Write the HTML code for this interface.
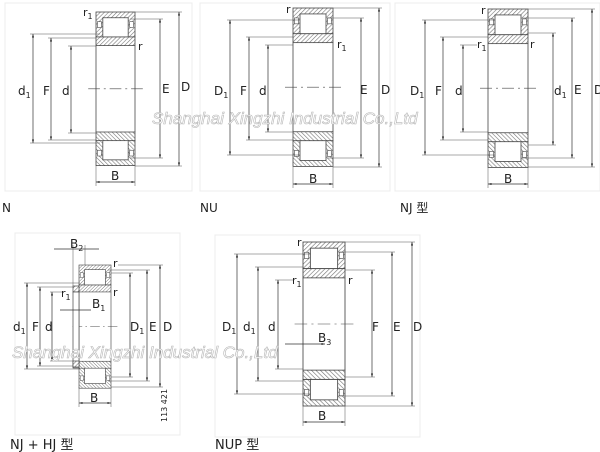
<!DOCTYPE html>
<html><head><meta charset="utf-8"><style>
html,body{margin:0;padding:0;background:#fff;}
svg{display:block;}
text{font-family:"DejaVu Sans","Liberation Sans","Noto Sans CJK SC",sans-serif;fill:#222;}
text.wm{font-family:"Liberation Sans",sans-serif;font-style:italic;font-size:17px;fill:#fff;stroke:#b5b5b5;stroke-width:0.6;}
</style></head><body>
<svg width="600" height="452" viewBox="0 0 600 452" xmlns="http://www.w3.org/2000/svg">
<defs>
<pattern id="h" patternUnits="userSpaceOnUse" width="3" height="3" patternTransform="rotate(45)">
<rect width="3" height="3" fill="#fff"/><line x1="0" y1="0" x2="0" y2="3" stroke="#777" stroke-width="1.2"/></pattern>
<marker id="a" viewBox="0 0 10 10" refX="10" refY="5" markerWidth="5" markerHeight="6" orient="auto-start-reverse"><path d="M0,2 L10,5 L0,8z" fill="#222"/></marker>
<g id="half">
<rect x="0" y="0" width="40" height="26" fill="url(#h)" stroke="#444" stroke-width="0.8"/>
<rect x="7" y="6" width="26" height="20" fill="#fff" stroke="#444" stroke-width="0.8"/>
<rect x="1.5" y="10" width="4" height="6" fill="#fff" stroke="#444" stroke-width="0.6"/>
<rect x="34.5" y="10" width="4" height="6" fill="#fff" stroke="#444" stroke-width="0.6"/>
<rect x="0" y="26" width="40" height="9" fill="url(#h)" stroke="#444" stroke-width="0.8"/>
</g>
<g id="brg">
<use href="#half"/>
<use href="#half" transform="translate(0,160) scale(1,-1)"/>
<line x1="0" y1="35" x2="0" y2="125" stroke="#444" stroke-width="0.8"/>
<line x1="40" y1="35" x2="40" y2="125" stroke="#444" stroke-width="0.8"/>
<line x1="-8" y1="80" x2="48" y2="80" stroke="#444" stroke-width="0.6" stroke-dasharray="12,4,2,4"/>
</g>
</defs>
<g stroke="#ececec" fill="none"><rect x="5" y="3" width="187" height="188"/><rect x="200" y="3" width="190" height="188"/><rect x="395" y="3" width="205" height="188"/><rect x="15" y="233" width="165" height="202"/><rect x="215" y="235" width="205" height="202"/></g>

<!-- N -->
<use href="#brg" transform="translate(96,12) scale(0.975,0.96)"/>
<g stroke="#333" stroke-width="0.7" fill="none" marker-start="url(#a)" marker-end="url(#a)">
<line x1="33" y1="34" x2="33" y2="143"/><line x1="51" y1="38" x2="51" y2="140"/><line x1="71" y1="46" x2="71" y2="133"/>
<line x1="160" y1="19" x2="160" y2="158"/><line x1="179" y1="12" x2="179" y2="166"/><line x1="96" y1="182" x2="135" y2="182"/>
</g>
<g stroke="#555" stroke-width="0.5"><line x1="30" y1="34" x2="100" y2="34"/><line x1="30" y1="143" x2="100" y2="143"/><line x1="48" y1="38" x2="96" y2="38"/><line x1="48" y1="140" x2="96" y2="140"/><line x1="68" y1="46" x2="96" y2="46"/><line x1="68" y1="133" x2="96" y2="133"/><line x1="130" y1="19" x2="163" y2="19"/><line x1="130" y1="158" x2="163" y2="158"/><line x1="135" y1="12" x2="182" y2="12"/><line x1="135" y1="166" x2="182" y2="166"/><line x1="96" y1="166" x2="96" y2="186"/><line x1="135" y1="166" x2="135" y2="186"/></g>
<text x="18" y="95" font-size="12">d<tspan font-size="8" dy="3">1</tspan></text><text x="43" y="95" font-size="12">F</text><text x="62" y="95" font-size="12">d</text><text x="162" y="93" font-size="12">E</text><text x="181" y="91" font-size="12">D</text><text x="111" y="180" font-size="12">B</text><text x="83" y="16" font-size="11">r<tspan font-size="8" dy="3">1</tspan></text><text x="138" y="50" font-size="11">r</text>
<text x="2" y="212" font-size="12">N</text>

<!-- NU -->
<use href="#brg" transform="translate(293,8) scale(1.0,0.99)"/>
<g stroke="#333" stroke-width="0.7" marker-start="url(#a)" marker-end="url(#a)">
<line x1="230" y1="20" x2="230" y2="155"/><line x1="249" y1="37" x2="249" y2="140"/><line x1="268" y1="45" x2="268" y2="132"/><line x1="361" y1="18" x2="361" y2="158"/><line x1="379" y1="8" x2="379" y2="167"/><line x1="293" y1="184" x2="333" y2="184"/></g>
<g stroke="#555" stroke-width="0.5"><line x1="227" y1="20" x2="300" y2="20"/><line x1="227" y1="155" x2="300" y2="155"/><line x1="246" y1="37" x2="293" y2="37"/><line x1="246" y1="140" x2="293" y2="140"/><line x1="265" y1="45" x2="293" y2="45"/><line x1="265" y1="132" x2="293" y2="132"/><line x1="327" y1="18" x2="364" y2="18"/><line x1="327" y1="158" x2="364" y2="158"/><line x1="333" y1="8" x2="382" y2="8"/><line x1="333" y1="167" x2="382" y2="167"/><line x1="293" y1="167" x2="293" y2="188"/><line x1="333" y1="167" x2="333" y2="188"/></g>
<text x="214" y="95" font-size="12">D<tspan font-size="8" dy="3">1</tspan></text><text x="240" y="95" font-size="12">F</text><text x="259" y="95" font-size="12">d</text><text x="360" y="94" font-size="12">E</text><text x="381" y="94" font-size="12">D</text><text x="309" y="183" font-size="12">B</text><text x="286" y="13" font-size="11">r</text><text x="337" y="48" font-size="11">r<tspan font-size="8" dy="3">1</tspan></text>
<text x="200" y="212" font-size="12">NU</text>

<!-- NJ -->
<use href="#brg" transform="translate(488,9) scale(1.0,0.99)"/>
<g stroke="#333" stroke-width="0.7" marker-start="url(#a)" marker-end="url(#a)">
<line x1="425" y1="20" x2="425" y2="155"/><line x1="443" y1="37" x2="443" y2="140"/><line x1="463" y1="45" x2="463" y2="132"/><line x1="553" y1="33" x2="553" y2="145"/><line x1="572" y1="18" x2="572" y2="158"/><line x1="592" y1="9" x2="592" y2="167"/><line x1="488" y1="184" x2="528" y2="184"/></g>
<g stroke="#555" stroke-width="0.5"><line x1="422" y1="20" x2="495" y2="20"/><line x1="422" y1="155" x2="495" y2="155"/><line x1="440" y1="37" x2="488" y2="37"/><line x1="440" y1="140" x2="488" y2="140"/><line x1="460" y1="45" x2="477" y2="45"/><line x1="460" y1="132" x2="488" y2="132"/><line x1="528" y1="33" x2="556" y2="33"/><line x1="528" y1="145" x2="556" y2="145"/><line x1="522" y1="18" x2="575" y2="18"/><line x1="522" y1="158" x2="575" y2="158"/><line x1="528" y1="9" x2="595" y2="9"/><line x1="528" y1="167" x2="595" y2="167"/><line x1="488" y1="167" x2="488" y2="188"/><line x1="528" y1="167" x2="528" y2="188"/></g>
<text x="410" y="95" font-size="12">D<tspan font-size="8" dy="3">1</tspan></text><text x="435" y="95" font-size="12">F</text><text x="455" y="95" font-size="12">d</text><text x="554" y="95" font-size="12">d<tspan font-size="8" dy="3">1</tspan></text><text x="574" y="94" font-size="12">E</text><text x="594" y="94" font-size="12">D</text><text x="504" y="183" font-size="12">B</text><text x="481" y="14" font-size="11">r</text><text x="477" y="48" font-size="11">r<tspan font-size="8" dy="3">1</tspan></text><text x="530" y="48" font-size="11">r</text>
<text x="400" y="212" font-size="12">NJ 型</text>

<!-- NJ+HJ -->
<use href="#brg" transform="translate(79,265) scale(0.8,0.77)"/>
<rect x="73" y="286" width="6" height="6" fill="url(#h)" stroke="#444" stroke-width="0.7"/>
<rect x="73" y="292" width="6" height="76" fill="#fff" stroke="#444" stroke-width="0.7"/>
<rect x="73" y="361" width="6" height="6" fill="url(#h)" stroke="#444" stroke-width="0.7"/>
<g stroke="#333" stroke-width="0.7" marker-start="url(#a)" marker-end="url(#a)">
<line x1="27" y1="283" x2="27" y2="369"/><line x1="40" y1="287" x2="40" y2="366"/><line x1="52" y1="292" x2="52" y2="361"/><line x1="130" y1="273" x2="130" y2="377"/><line x1="147" y1="270" x2="147" y2="381"/><line x1="160" y1="265" x2="160" y2="387"/><line x1="79" y1="403" x2="111" y2="403"/></g>
<line x1="54" y1="249" x2="99" y2="249" stroke="#333" stroke-width="0.7"/>
<line x1="60" y1="310" x2="91" y2="310" stroke="#333" stroke-width="0.7"/>
<g stroke="#555" stroke-width="0.5"><line x1="24" y1="283" x2="80" y2="283"/><line x1="24" y1="369" x2="80" y2="369"/><line x1="37" y1="287" x2="73" y2="287"/><line x1="37" y1="366" x2="73" y2="366"/><line x1="50" y1="292" x2="64" y2="292"/><line x1="50" y1="361" x2="73" y2="361"/><line x1="111" y1="273" x2="133" y2="273"/><line x1="111" y1="377" x2="133" y2="377"/><line x1="108" y1="270" x2="150" y2="270"/><line x1="108" y1="381" x2="150" y2="381"/><line x1="118" y1="265" x2="163" y2="265"/><line x1="111" y1="387" x2="163" y2="387"/><line x1="73" y1="245" x2="73" y2="286"/><line x1="85" y1="245" x2="85" y2="265"/><line x1="79" y1="387" x2="79" y2="407"/><line x1="111" y1="387" x2="111" y2="407"/></g>
<text x="13" y="331" font-size="12">d<tspan font-size="8" dy="3">1</tspan></text><text x="32" y="331" font-size="12">F</text><text x="45" y="331" font-size="12">d</text><text x="130" y="331" font-size="12">D<tspan font-size="8" dy="3">1</tspan></text><text x="149" y="331" font-size="12">E</text><text x="163" y="331" font-size="12">D</text><text x="90" y="402" font-size="12">B</text><text x="70" y="248" font-size="12">B<tspan font-size="8" dy="3">2</tspan></text><text x="92" y="308" font-size="12">B<tspan font-size="8" dy="3">1</tspan></text><text x="61" y="297" font-size="11">r<tspan font-size="8" dy="3">1</tspan></text><text x="113" y="267" font-size="11">r</text><text x="113" y="296" font-size="11">r</text>
<text x="167" y="422" font-size="8" transform="rotate(-90 167 422)">113 421</text>
<text x="10" y="449" font-size="13">NJ + HJ 型</text>

<!-- NUP -->
<use href="#brg" transform="translate(303,242) scale(1.05,1.025)"/>
<g stroke="#333" stroke-width="0.7" marker-start="url(#a)" marker-end="url(#a)">
<line x1="237" y1="254" x2="237" y2="394"/><line x1="258" y1="267" x2="258" y2="381"/><line x1="278" y1="280" x2="278" y2="369"/><line x1="372" y1="270" x2="372" y2="377"/><line x1="392" y1="252" x2="392" y2="396"/><line x1="412" y1="242" x2="412" y2="406"/><line x1="303" y1="422" x2="345" y2="422"/></g>
<line x1="285" y1="344" x2="325" y2="344" stroke="#333" stroke-width="0.7" marker-end="url(#a)"/>
<g stroke="#555" stroke-width="0.5"><line x1="234" y1="254" x2="311" y2="254"/><line x1="234" y1="394" x2="311" y2="394"/><line x1="255" y1="267" x2="303" y2="267"/><line x1="255" y1="381" x2="303" y2="381"/><line x1="275" y1="280" x2="293" y2="280"/><line x1="275" y1="369" x2="303" y2="369"/><line x1="345" y1="270" x2="375" y2="270"/><line x1="345" y1="377" x2="375" y2="377"/><line x1="338" y1="252" x2="395" y2="252"/><line x1="338" y1="396" x2="395" y2="396"/><line x1="345" y1="242" x2="415" y2="242"/><line x1="345" y1="406" x2="415" y2="406"/><line x1="303" y1="406" x2="303" y2="426"/><line x1="345" y1="406" x2="345" y2="426"/></g>
<text x="222" y="331" font-size="12">D<tspan font-size="8" dy="3">1</tspan></text><text x="243" y="331" font-size="12">d<tspan font-size="8" dy="3">1</tspan></text><text x="268" y="331" font-size="12">d</text><text x="372" y="331" font-size="12">F</text><text x="393" y="331" font-size="12">E</text><text x="413" y="331" font-size="12">D</text><text x="318" y="420" font-size="12">B</text><text x="318" y="342" font-size="12">B<tspan font-size="8" dy="3">3</tspan></text><text x="297" y="246" font-size="11">r</text><text x="292" y="284" font-size="11">r<tspan font-size="8" dy="3">1</tspan></text><text x="348" y="284" font-size="11">r</text>
<text x="215" y="449" font-size="13">NUP 型</text>

<!-- watermark -->
<text class="wm" x="152" y="124">Shanghai Xingzhi Industrial Co.,Ltd</text>
<text class="wm" x="12" y="358">Shanghai Xingzhi Industrial Co.,Ltd</text>
</svg>
</body></html>
